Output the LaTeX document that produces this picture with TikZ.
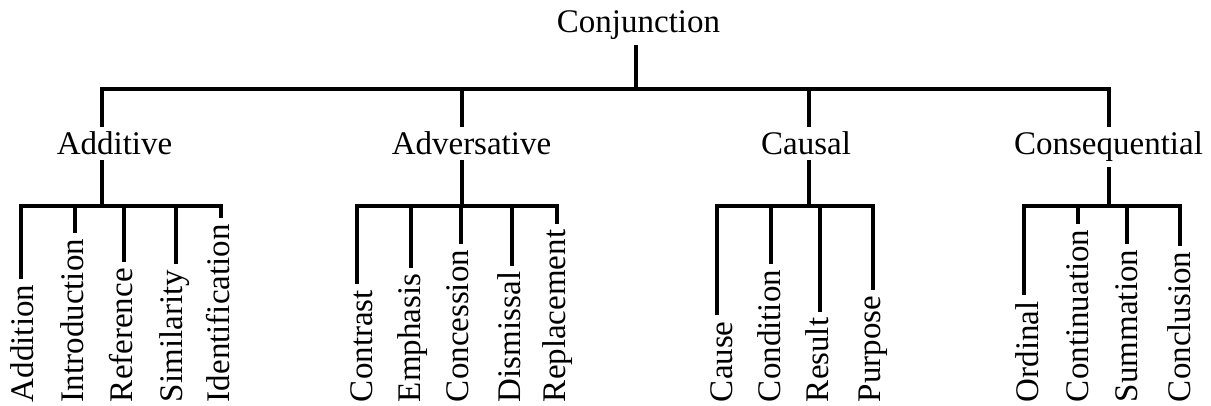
\documentclass[tikz,border=0pt]{standalone}
\usepackage{fontspec}
\setmainfont{Liberation Serif}
\begin{document}
\begin{tikzpicture}[x=1pt,y=-1pt,
  lvl/.style={font=\fontsize{33}{40}\selectfont, inner sep=0pt, outer sep=5pt, anchor=base},
  leaf/.style={font=\fontsize{33}{40}\selectfont, inner sep=0pt, outer sep=6pt, rotate=90, anchor=base west},
  link/.style={line width=3.4pt, line join=miter, line cap=butt}]
\useasboundingbox (0,0) rectangle (1211,406);

% level 0 and 1
\node[lvl] (conj) at (638.5,33) {Conjunction};
\node[lvl] (add) at (114.5,155) {Additive};
\node[lvl] (adv) at (471.5,155) {Adversative};
\node[lvl] (cau) at (806,155) {Causal};
\node[lvl] (con) at (1108.5,155) {Consequential};

% leaves
\node[leaf] (l11) at (33,408) {Addition};
\node[leaf] (l12) at (83,408) {Introduction};
\node[leaf] (l13) at (132,408) {Reference};
\node[leaf] (l14) at (182,408) {Similarity};
\node[leaf] (l15) at (229,408) {Identification};

\node[leaf] (l21) at (372,408) {Contrast};
\node[leaf] (l22) at (420,408) {Emphasis};
\node[leaf] (l23) at (468,408) {Concession};
\node[leaf] (l24) at (520,408) {Dismissal};
\node[leaf] (l25) at (565,408) {Replacement};

\node[leaf] (l31) at (732,408) {Cause};
\node[leaf] (l32) at (780,408) {Condition};
\node[leaf] (l33) at (828,408) {Result};
\node[leaf] (l34) at (880,408) {Purpose};

\node[leaf] (l41) at (1038,408) {Ordinal};
\node[leaf] (l42) at (1088,408) {Continuation};
\node[leaf] (l43) at (1137,408) {Summation};
\node[leaf] (l44) at (1190,408) {Conclusion};

% joints
\coordinate (r) at (636,89);
\coordinate (a) at (102,89);
\coordinate (b) at (462,89);
\coordinate (c) at (809,89);
\coordinate (d) at (1109,89);

\coordinate (a0) at (102,206);
\coordinate (a1) at (21,206);
\coordinate (a2) at (75,206);
\coordinate (a3) at (124,206);
\coordinate (a4) at (176,206);
\coordinate (a5) at (221,206);

\coordinate (b0) at (462,206);
\coordinate (b1) at (357,206);
\coordinate (b2) at (411,206);
\coordinate (b3) at (461,206);
\coordinate (b4) at (512,206);
\coordinate (b5) at (557,206);

\coordinate (c0) at (809,206);
\coordinate (c1) at (717,206);
\coordinate (c2) at (771,206);
\coordinate (c3) at (820,206);
\coordinate (c4) at (873,206);

\coordinate (d0) at (1109,206);
\coordinate (d1) at (1024,206);
\coordinate (d2) at (1078,206);
\coordinate (d3) at (1127,206);
\coordinate (d4) at (1180,206);

% top level
\draw[link] (conj.south -| r) -- (r);
\draw[link] (add.north -| a) -- (a) -- (d) -- (con.north -| d);
\draw[link] (b) -- (adv.north -| b);
\draw[link] (c) -- (cau.north -| c);

% Additive
\draw[link] (add.south -| a0) -- (a0);
\draw[link] (l11.east -| a1) -- (a1) -- (a5) -- (l15.east -| a5);
\draw[link] (a2) -- (l12.east -| a2);
\draw[link] (a3) -- (l13.east -| a3);
\draw[link] (a4) -- (l14.east -| a4);

% Adversative
\draw[link] (adv.south -| b0) -- (b0);
\draw[link] (l21.east -| b1) -- (b1) -- (b5) -- (l25.east -| b5);
\draw[link] (b2) -- (l22.east -| b2);
\draw[link] (b3) -- (l23.east -| b3);
\draw[link] (b4) -- (l24.east -| b4);

% Causal
\draw[link] (cau.south -| c0) -- (c0);
\draw[link] (l31.east -| c1) -- (c1) -- (c4) -- (l34.east -| c4);
\draw[link] (c2) -- (l32.east -| c2);
\draw[link] (c3) -- (l33.east -| c3);

% Consequential
\draw[link] (con.south -| d0) -- (d0);
\draw[link] (l41.east -| d1) -- (d1) -- (d4) -- (l44.east -| d4);
\draw[link] (d2) -- (l42.east -| d2);
\draw[link] (d3) -- (l43.east -| d3);
\end{tikzpicture}
\end{document}
